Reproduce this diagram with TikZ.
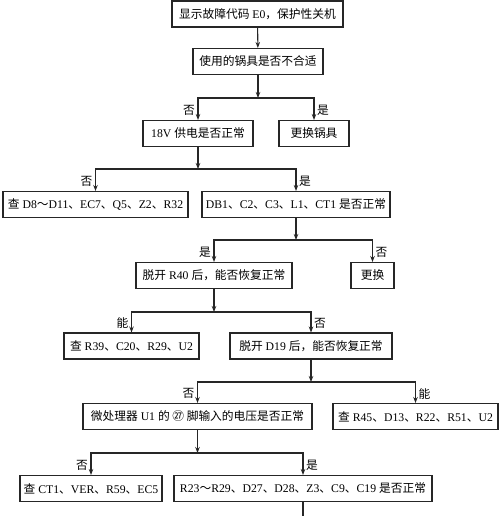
\documentclass[tikz,border=0pt]{standalone}
\usepackage{fontspec}
\setmainfont{Liberation Serif}
\newfontfamily\cjk{Noto Sans CJK SC}
\newcommand\zh[1]{{\cjk #1}}
\usetikzlibrary{arrows.meta}
\begin{document}
\begin{tikzpicture}[x=0.75pt,y=-0.75pt,
  lc/.style={draw=black!85, line width=0.8pt},
  box/.style={lc, rectangle, minimum height=19.5pt, inner sep=1pt, font=\fontsize{8.8}{10}\selectfont, text=black},
  arr/.style={lc, -{Stealth[length=4.5pt,width=3.4pt]}},
  lbl/.style={font=\fontsize{8.8}{10}\selectfont\cjk, inner sep=2pt}]
\useasboundingbox (0,0) rectangle (500,516);
\node[box, minimum width=128.25pt] (b1) at (257.5,14) {\zh{显示故障代码} E0\zh{，保护性关机}};
\node[box, minimum width=97.5pt] (b2) at (258,61.5) {\zh{使用的锅具是否不合适}};
\coordinate (j1) at (258,98);
\node[box, minimum width=82.5pt] (b3) at (198,133.5) {18V \zh{供电是否正常}};
\node[box, minimum width=52.5pt] (b4) at (314,133.5) {\zh{更换锅具}};
\coordinate (j2) at (198,169);
\node[box, minimum width=138.75pt] (b5) at (95.5,204.5) {\zh{查} D8\zh{～}D11\zh{、}EC7\zh{、}Q5\zh{、}Z2\zh{、}R32};
\node[box, minimum width=141pt] (b6) at (296,204.5) {DB1\zh{、}C2\zh{、}C3\zh{、}L1\zh{、}CT1 \zh{是否正常}};
\coordinate (j3) at (296,240);
\node[box, minimum width=117pt] (b7) at (214,275.5) {\zh{脱开} R40 \zh{后，能否恢复正常}};
\node[box, minimum width=32.25pt] (b8) at (372.5,275.5) {\zh{更换}};
\coordinate (j4) at (214,312);
\node[box, minimum width=101.25pt] (b9) at (131.5,346) {\zh{查} R39\zh{、}C20\zh{、}R29\zh{、}U2};
\node[box, minimum width=121.5pt] (b10) at (311,346) {\zh{脱开} D19 \zh{后，能否恢复正常}};
\coordinate (j5) at (311,382);
\node[box, minimum width=171.75pt] (b11) at (197.5,416.5) {\zh{微处理器} U1 \zh{的 ㉗ 脚输入的电压是否正常}};
\node[box, minimum width=123.75pt] (b12) at (415.5,416.5) {\zh{查} R45\zh{、}D13\zh{、}R22\zh{、}R51\zh{、}U2};
\coordinate (j6) at (197.5,453);
\node[box, minimum width=106.5pt] (b13) at (91,488.5) {\zh{查} CT1\zh{、}VER\zh{、}R59\zh{、}EC5};
\node[box, minimum width=193.5pt] (b14) at (303,488.5) {R23\zh{～}R29\zh{、}D27\zh{、}D28\zh{、}Z3\zh{、}C9\zh{、}C19 \zh{是否正常}};
\coordinate (e) at (303,518);

\draw[arr] (b1) -- (b2);
\draw[arr] (b2) -- (j1);
\draw[arr] (j1) -| node[lbl, pos=0.78, left] {否} (b3);
\draw[arr] (j1) -| node[lbl, pos=0.78, right] {是} (b4);
\draw[arr] (b3) -- (j2);
\draw[arr] (j2) -| node[lbl, pos=0.78, left] {否} (b5);
\draw[arr] (j2) -| node[lbl, pos=0.78, right] {是} (b6);
\draw[arr] (b6) -- (j3);
\draw[arr] (j3) -| node[lbl, pos=0.78, left] {是} (b7);
\draw[arr] (j3) -| node[lbl, pos=0.78, right] {否} (b8);
\draw[arr] (b7) -- (j4);
\draw[arr] (j4) -| node[lbl, pos=0.78, left] {能} (b9);
\draw[arr] (j4) -| node[lbl, pos=0.78, right] {否} (b10);
\draw[arr] (b10) -- (j5);
\draw[arr] (j5) -| node[lbl, pos=0.78, left] {否} (b11);
\draw[arr] (j5) -| node[lbl, pos=0.78, right] {能} (b12);
\draw[arr] (b11) -- (j6);
\draw[arr] (j6) -| node[lbl, pos=0.78, left] {否} (b13);
\draw[arr] (j6) -| node[lbl, pos=0.78, right] {是} (b14);
\draw[lc] (b14) -- (e);
\end{tikzpicture}
\end{document}
